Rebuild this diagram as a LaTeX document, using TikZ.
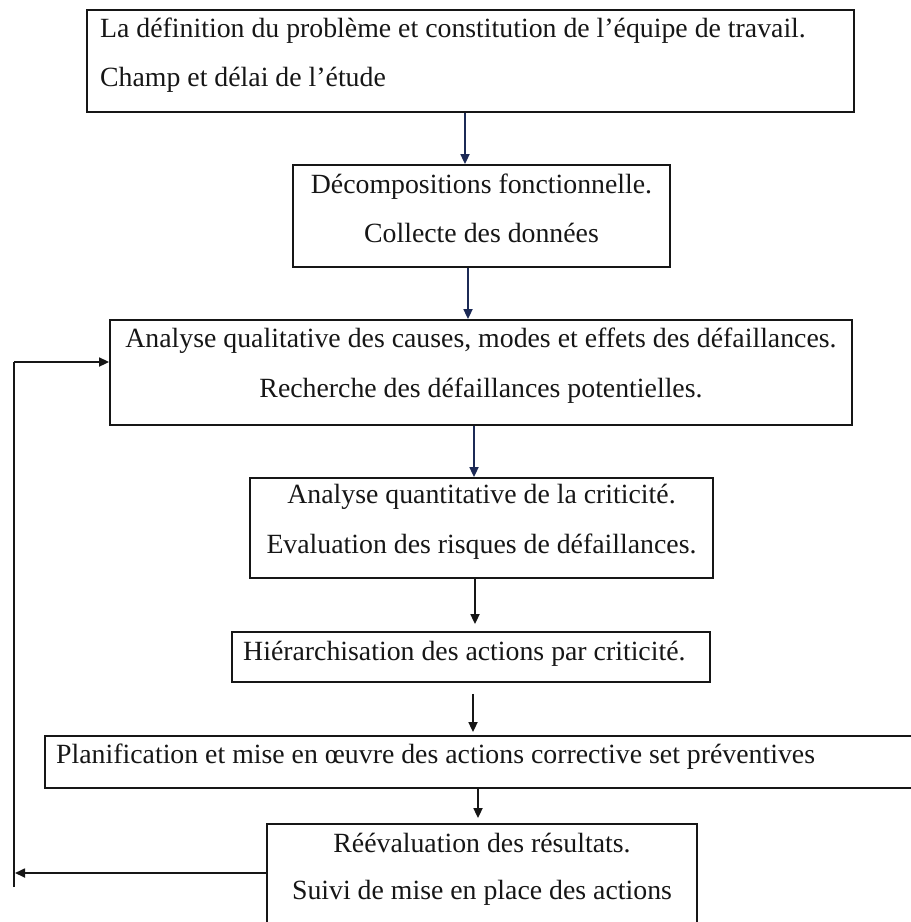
\documentclass[tikz,border=0pt]{standalone}
\usepackage{fontspec}
\setmainfont{Liberation Serif}
\usetikzlibrary{arrows.meta}
\definecolor{ink}{HTML}{161616}
\definecolor{navy}{HTML}{1C2A56}
\tikzset{
  box/.style={draw=ink, line width=1.8pt, rectangle, inner sep=0pt},
  label/.style={text=ink, font=\fontsize{27.8}{30}\selectfont, inner sep=0pt, anchor=base},
  leftlabel/.style={label, anchor=base west},
  arr/.style={draw=ink, line width=1.7pt, -{Triangle[length=10pt,width=9pt]}},
  navyarr/.style={arr, draw=navy, -{Triangle[length=10pt,width=9pt,fill=navy]}},
}
\begin{document}
\begin{tikzpicture}[x=1pt,y=-1pt]
\useasboundingbox (0,0) rectangle (911,922);
\clip (0,0) rectangle (911,922);

% process boxes
\node[box, minimum width=767pt, minimum height=102pt] (b1) at (470.5,61) {};
\node[box, minimum width=377pt, minimum height=102pt] (b2) at (481.5,216) {};
\node[box, minimum width=742pt, minimum height=105pt] (b3) at (481,372.5) {};
\node[box, minimum width=463pt, minimum height=100pt] (b4) at (481.5,528) {};
\node[box, minimum width=478pt, minimum height=50pt] (b5) at (471,657) {};
\node[box, minimum width=875pt, minimum height=52pt] (b6) at (482.5,762) {};
\node[box, minimum width=430pt, minimum height=104pt] (b7) at (482,876) {};

% box texts
\node[leftlabel] (t1a) at (100,37) {La définition du problème et constitution de l’équipe de travail.};
\node[leftlabel] (t1b) at (100,86) {Champ et délai de l’étude};
\node[label] (t2a) at (481.5,193) {Décompositions fonctionnelle.};
\node[label] (t2b) at (481.5,242) {Collecte des données};
\node[label] (t3a) at (481,347) {Analyse qualitative des causes, modes et effets des défaillances.};
\node[label] (t3b) at (481,397) {Recherche des défaillances potentielles.};
\node[label] (t4a) at (481.5,503) {Analyse quantitative de la criticité.};
\node[label] (t4b) at (481.5,553) {Evaluation des risques de défaillances.};
\node[leftlabel] (t5) at (243,660) {Hiérarchisation des actions par criticité.};
\node[leftlabel] (t6) at (56,763) {Planification et mise en œuvre des actions corrective set préventives};
\node[label] (t7a) at (482,852) {Réévaluation des résultats.};
\node[label] (t7b) at (482,899) {Suivi de mise en place des actions};

% anchor points of the downward connectors
\coordinate (a1) at ([xshift=-5.5pt]b1.south);
\coordinate (a2) at ([xshift=-13.5pt]b2.south);
\coordinate (a3) at ([xshift=-7pt]b3.south);
\coordinate (a4) at ([xshift=-6.5pt]b4.south);
\coordinate (a5) at ([xshift=2pt]b5.south);
\coordinate (a6) at ([xshift=-4.5pt]b6.south);

% downward flow
\draw[navyarr] (a1) -- (a1 |- b2.north);
\draw[navyarr] (a2) -- (a2 |- b3.north);
\draw[navyarr] (a3) -- (a3 |- b4.north);
\draw[arr, shorten >=7pt] (a4) -- (a4 |- b5.north);
\draw[arr, shorten <=11pt, shorten >=3pt] (a5) -- (a5 |- b6.north);
\draw[arr, shorten >=5pt] (a6) -- (a6 |- b7.north);

% feedback loop
\coordinate (fbot) at (14,887);
\coordinate (ftop) at (14,362);
\coordinate (fin) at (15,873);
\draw[draw=ink, line width=1.7pt] (fbot) -- (ftop);
\draw[arr] (ftop) -- ([yshift=10.5pt]b3.west);
\draw[arr] ([yshift=3pt]b7.west) -- (fin);
\end{tikzpicture}
\end{document}
